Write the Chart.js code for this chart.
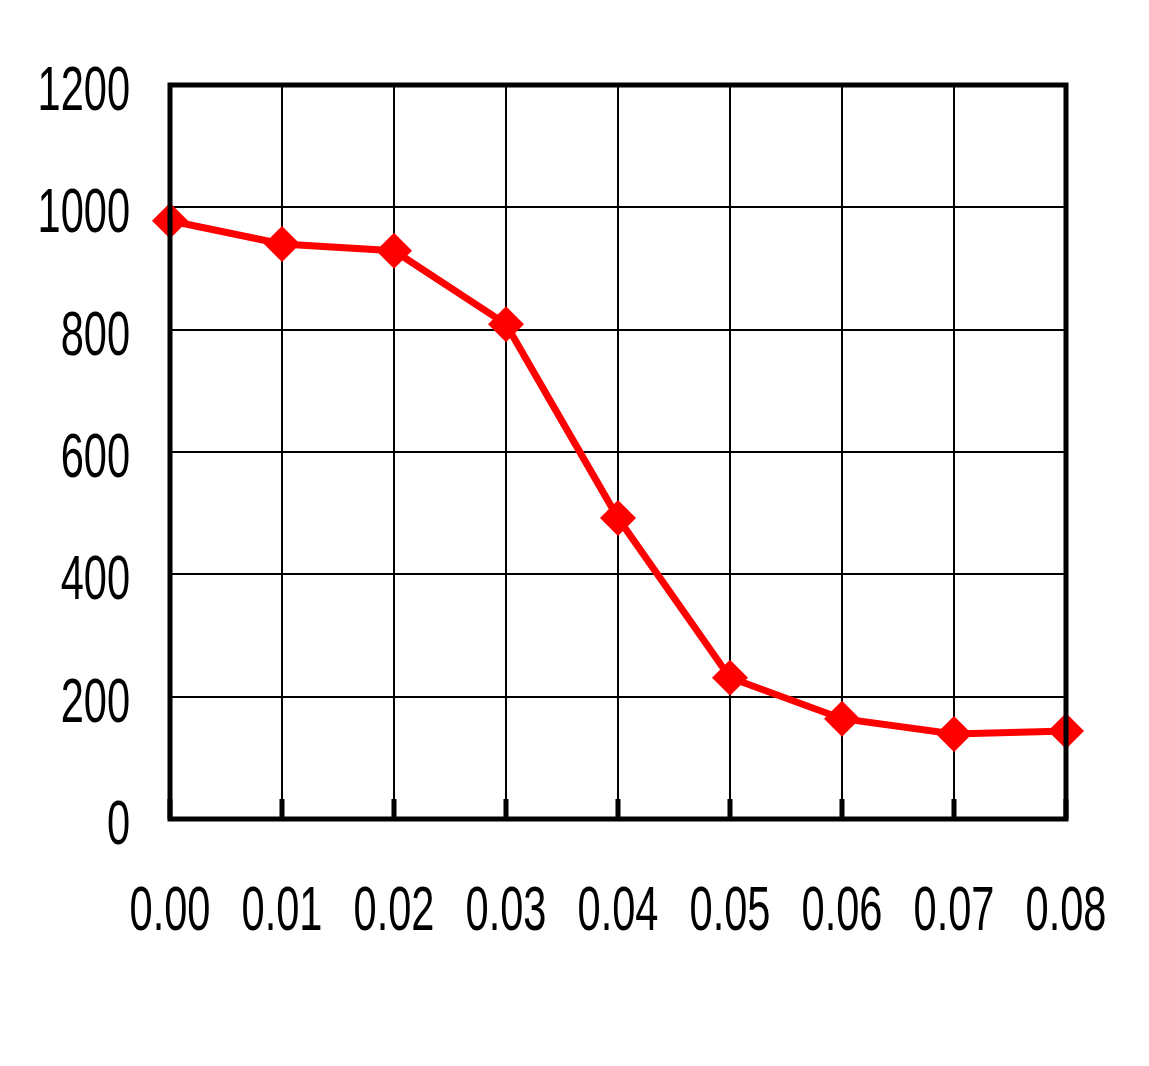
<!DOCTYPE html>
<html>
<head>
<meta charset="utf-8">
<script src="https://cdn.jsdelivr.net/npm/chart.js@4"></script>
<style>
  html, body { margin: 0; padding: 0; background: #fff; }
  #wrap { width: 1149px; height: 1066px; }
</style>
</head>
<body>
<div id="wrap"><canvas id="chart"></canvas></div>
<script>
// x values and measured y values
const xValues = [0.00, 0.01, 0.02, 0.03, 0.04, 0.05, 0.06, 0.07, 0.08];
const yValues = [978, 940, 929, 809, 492, 231, 164, 139, 144];
const yTicks = [0, 200, 400, 600, 800, 1000, 1200];
const xLabels = ["0.00", "0.01", "0.02", "0.03", "0.04", "0.05", "0.06", "0.07", "0.08"];

const FONT = "63px 'Liberation Sans', Arial, sans-serif";
const SQUEEZE = 0.66; // tall narrow digits like the original

// squeezed text helper
function narrowText(ctx, text, x, y, align) {
  ctx.save();
  ctx.translate(x, y);
  ctx.scale(SQUEEZE, 1);
  ctx.textAlign = align;
  ctx.fillText(text, 0, 0);
  ctx.restore();
}

// frame, little inward ticks on the bottom axis, tick labels
const framePlugin = {
  id: "frame",
  afterDraw(chart) {
    const { ctx, chartArea: a, scales } = chart;
    ctx.save();
    ctx.fillStyle = "#000";
    xValues.forEach(v => {
      const x = scales.x.getPixelForValue(v);
      ctx.fillRect(x - 2.5, a.bottom - 20, 5, 20);
    });
    ctx.strokeStyle = "#000";
    ctx.lineWidth = 5;
    ctx.strokeRect(a.left, a.top, a.right - a.left, a.bottom - a.top);

    ctx.font = FONT;
    ctx.textBaseline = "alphabetic";
    yTicks.forEach(v => {
      narrowText(ctx, String(v), 130, scales.y.getPixelForValue(v) + 25, "right");
    });
    xValues.forEach((v, i) => {
      narrowText(ctx, xLabels[i], scales.x.getPixelForValue(v), 930, "center");
    });
    ctx.restore();
  }
};

new Chart(document.getElementById("chart"), {
  type: "line",
  data: {
    datasets: [{
      data: xValues.map((x, i) => ({ x, y: yValues[i] })),
      borderColor: "#ff0000",
      backgroundColor: "#ff0000",
      borderWidth: 7,
      pointStyle: "rectRot",
      pointRadius: 18,
      pointBorderWidth: 0,
      tension: 0,
      clip: false
    }]
  },
  options: {
    responsive: true,
    maintainAspectRatio: false,
    animation: false,
    events: [],
    layout: { padding: { left: 0, top: 85, right: 83, bottom: 0 } },
    plugins: { legend: { display: false }, tooltip: { enabled: false } },
    scales: {
      x: {
        type: "linear",
        min: 0,
        max: 0.08,
        afterFit: s => { s.height = 247; },
        afterBuildTicks: s => { s.ticks = xValues.map(v => ({ value: v })); },
        ticks: { display: false },
        grid: { color: "#000", lineWidth: 2, drawTicks: false },
        border: { display: false }
      },
      y: {
        min: 0,
        max: 1200,
        afterFit: s => { s.width = 170; },
        afterBuildTicks: s => { s.ticks = yTicks.map(v => ({ value: v })); },
        ticks: { display: false },
        grid: { color: "#000", lineWidth: 2, drawTicks: false },
        border: { display: false }
      }
    }
  },
  plugins: [framePlugin]
});
</script>
</body>
</html>
